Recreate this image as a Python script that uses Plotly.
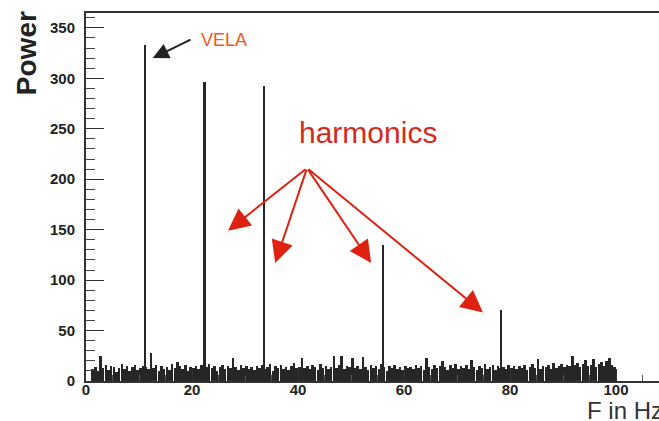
import plotly.graph_objects as go

# ---------------- data ----------------
NOISE_START_HZ = 1.0
NOISE_BIN_HZ = 0.5
NOISE_POWER = [
    12, 14, 10, 25, 13, 16, 11, 15, 14, 9, 13, 17, 12, 15, 10, 14, 16, 11, 13, 15,
    14, 12, 28, 13, 16, 10, 15, 12, 14, 11, 17, 13, 19, 15, 12, 16, 10, 14, 13, 15,
    12, 16, 11, 14, 17, 13, 15, 10, 14, 16, 12, 15, 13, 23, 14, 11, 16, 13, 15, 12,
    14, 11, 15, 13, 16, 12, 14, 17, 10, 15, 13, 16, 12, 14, 11, 15, 18, 13, 14, 23,
    13, 15, 12, 16, 14, 11, 17, 13, 15, 12, 14, 25, 13, 16, 25, 12, 15, 14, 23, 13,
    15, 12, 24, 14, 11, 16, 13, 15, 12, 17, 14, 10, 15, 13, 16, 12, 14, 11, 15, 13,
    14, 12, 16, 13, 15, 11, 23, 14, 12, 16, 13, 15, 20, 14, 11, 16, 13, 17, 12, 15,
    13, 16, 12, 21, 14, 11, 15, 13, 17, 12, 14, 16, 11, 15, 13, 14, 12, 16, 13, 15,
    12, 15, 13, 16, 11, 14, 17, 13, 22, 12, 15, 14, 16, 12, 18, 13, 15, 17, 14, 16,
    15, 25, 16, 18, 14, 17, 21, 15, 16, 22, 14, 17, 19, 15, 20, 23, 16, 14,
]
NOISE_FREQ = [NOISE_START_HZ + NOISE_BIN_HZ * (i + 0.5) for i in range(len(NOISE_POWER))]

PEAK_FREQ = [11.2, 22.4, 33.6, 56.0, 78.4]
PEAK_POWER = [333, 296, 292, 135, 70]

X_TICKS = [0, 20, 40, 60, 80, 100]
Y_TICKS = [0, 50, 100, 150, 200, 250, 300, 350]

# annotation anchors (data coordinates)
VELA_TEXT = (21.3, 338)
VELA_ARROW_TAIL = (20.0, 339)
VELA_ARROW_HEAD = (12.6, 320)
HARM_TEXT = (53.3, 246)
HARM_ORIGIN = (41.7, 211)
HARM_HEADS = [(26.8, 149), (35.7, 117), (53.8, 117), (74.9, 68)]

# ---------------- figure ----------------
W, H = 659, 421
ML, MT, MB = 86, 13, 40
PX_PER_HZ = 5.3
PX_PER_UNIT = 1.009
x_max = (W - ML) / PX_PER_HZ
y_max = (H - MT - MB) / PX_PER_UNIT

fig = go.Figure()
fig.add_trace(go.Bar(x=NOISE_FREQ, y=NOISE_POWER, width=0.47,
                     marker=dict(color="#262626", line=dict(width=0)),
                     hoverinfo="skip", showlegend=False))
fig.add_trace(go.Bar(x=PEAK_FREQ, y=PEAK_POWER, width=0.3,
                     marker=dict(color="#262626", line=dict(width=0)),
                     hoverinfo="skip", showlegend=False))

tickfont = dict(family="Liberation Sans", size=15, color="#222222", weight="bold")

fig.update_layout(
    width=W, height=H,
    margin=dict(l=ML, r=0, t=MT, b=MB, pad=0),
    paper_bgcolor="white", plot_bgcolor="white",
    barmode="overlay", bargap=0,
    showlegend=False,
    xaxis=dict(range=[0, x_max], tickvals=X_TICKS, ticktext=[str(v) for v in X_TICKS],
               showgrid=False, zeroline=False, showline=True, linewidth=2,
               linecolor="#333333", mirror=True, ticks="inside", ticklen=12,
               tickwidth=1, tickcolor="#333333", tickfont=tickfont,
               minor=dict(dtick=5, ticks="inside", ticklen=6, tickcolor="#555555"),
               ticklabelstandoff=-6),
    yaxis=dict(range=[0, y_max], tickvals=Y_TICKS, ticktext=[str(v) for v in Y_TICKS],
               showgrid=False, zeroline=False, showline=True, linewidth=2,
               linecolor="#333333", ticks="inside", ticklen=18, tickwidth=1,
               tickcolor="#333333", tickfont=tickfont,
               minor=dict(dtick=10, ticks="inside", ticklen=9, tickcolor="#444444"),
               ticklabelstandoff=6),
)

annotations = [
    dict(text="Power", xref="paper", yref="paper", x=-0.105, y=1.01,
         textangle=-90, xanchor="center", yanchor="top", showarrow=False,
         font=dict(family="Liberation Sans", size=28, color="#222222", weight="bold")),
    dict(text="F in Hz", xref="paper", yref="paper", x=(585 - ML) / (W - ML), y=-0.08,
         xanchor="left", yanchor="middle", showarrow=False,
         font=dict(family="Liberation Sans", size=24, color="#333333")),
    dict(text="VELA", xref="x", yref="y", x=VELA_TEXT[0], y=VELA_TEXT[1],
         xanchor="left", yanchor="middle", showarrow=False,
         font=dict(family="Liberation Sans", size=18, color="#f05a1a")),
    dict(text="", xref="x", yref="y", axref="x", ayref="y",
         x=VELA_ARROW_HEAD[0], y=VELA_ARROW_HEAD[1],
         ax=VELA_ARROW_TAIL[0], ay=VELA_ARROW_TAIL[1],
         showarrow=True, arrowhead=2, arrowsize=1.6, arrowwidth=2, arrowcolor="#222222",
         standoff=0, startstandoff=0),
    dict(text="harmonics", xref="x", yref="y", x=HARM_TEXT[0], y=HARM_TEXT[1],
         xanchor="center", yanchor="middle", showarrow=False,
         font=dict(family="Liberation Sans", size=30, color="#d42a1e")),
]
for hx, hy in HARM_HEADS:
    annotations.append(dict(text="", xref="x", yref="y", axref="x", ayref="y",
                            x=hx, y=hy, ax=HARM_ORIGIN[0], ay=HARM_ORIGIN[1],
                            showarrow=True, arrowhead=2, arrowsize=2.2, arrowwidth=2,
                            arrowcolor="#dd2211", standoff=0, startstandoff=0))
fig.update_layout(annotations=annotations)

fig.write_html("out.html")
